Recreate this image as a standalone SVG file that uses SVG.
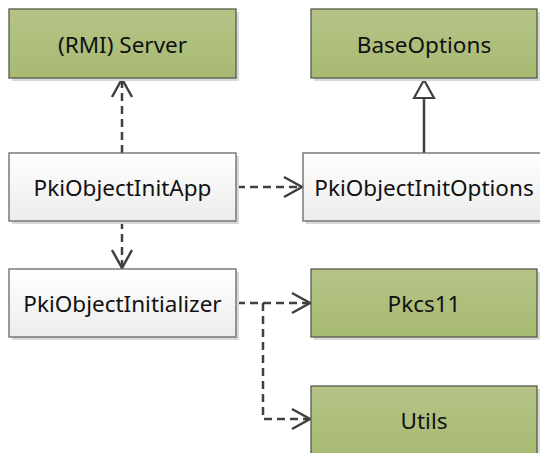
<svg xmlns="http://www.w3.org/2000/svg" width="540" height="453" viewBox="0 0 540 453">
<defs>
<linearGradient id="gGreen" x1="0" y1="0" x2="0" y2="1">
<stop offset="0" stop-color="#b5c487"/>
<stop offset="1" stop-color="#a7ba72"/>
</linearGradient>
<linearGradient id="gWhite" x1="0" y1="0" x2="0" y2="1">
<stop offset="0" stop-color="#ffffff"/>
<stop offset="1" stop-color="#ececec"/>
</linearGradient>
<marker id="open" markerUnits="userSpaceOnUse" markerWidth="26" markerHeight="26" refX="21" refY="13" orient="auto">
<path d="M3,3 L21,13 L3,23" fill="none" stroke="#404040" stroke-width="2.5"/>
</marker>
<marker id="tri" markerUnits="userSpaceOnUse" markerWidth="26" markerHeight="26" refX="23" refY="13" orient="auto">
<path d="M4,3 L22,13 L4,23 Z" fill="#ffffff" stroke="#404040" stroke-width="2.2"/>
</marker>
</defs>
<style>
.sh{fill:#d9d9d9;}
.g{fill:url(#gGreen);stroke:#555a4a;stroke-width:1.3;}
.w{fill:url(#gWhite);stroke:#666666;stroke-width:1.3;}
text{font-family:"Noto Sans","Open Sans","Liberation Sans",sans-serif;font-size:22.5px;fill:#111111;text-anchor:middle;dominant-baseline:central;}
.dash{fill:none;stroke:#404040;stroke-width:2.5;stroke-dasharray:8,5;}
.solid{fill:none;stroke:#404040;stroke-width:2.5;}
</style>
<g id="connectors">
<path class="dash" d="M122,153 L122,79" marker-end="url(#open)"/>
<path class="dash" d="M122,221 L122,268" marker-end="url(#open)"/>
<path class="dash" d="M237,187 L302,187" marker-end="url(#open)"/>
<path class="solid" d="M424,153 L424,79" marker-end="url(#tri)"/>
<path class="dash" d="M237,303 L310,303" marker-end="url(#open)"/>
<path class="dash" d="M263,303 L263,419 L310,419" marker-end="url(#open)"/>
</g>
<g id="server">
<rect class="sh" x="12" y="12" width="227" height="69"/>
<rect class="g" x="9" y="9" width="227" height="69"/>
<text x="122.5" y="44">(RMI) Server</text>
</g>
<g id="baseoptions">
<rect class="sh" x="314" y="12" width="226" height="69"/>
<rect class="g" x="311" y="9" width="226" height="69"/>
<text x="424" y="44">BaseOptions</text>
</g>
<g id="app">
<rect class="sh" x="12" y="156" width="227" height="68"/>
<rect class="w" x="9" y="153" width="227" height="68"/>
<text x="122.5" y="187">PkiObjectInitApp</text>
</g>
<g id="options">
<rect class="sh" x="306" y="156" width="240" height="68"/>
<rect class="w" x="303" y="153" width="240" height="68"/>
<text x="424" y="187">PkiObjectInitOptions</text>
</g>
<g id="initializer">
<rect class="sh" x="12" y="272" width="227" height="68"/>
<rect class="w" x="9" y="269" width="227" height="68"/>
<text x="122.5" y="303">PkiObjectInitializer</text>
</g>
<g id="pkcs11">
<rect class="sh" x="314" y="272" width="226" height="68"/>
<rect class="g" x="311" y="269" width="226" height="68"/>
<text x="424" y="303">Pkcs11</text>
</g>
<g id="utils">
<rect class="sh" x="314" y="389" width="226" height="70"/>
<rect class="g" x="311" y="386" width="226" height="70"/>
<text x="424" y="420">Utils</text>
</g>
</svg>
